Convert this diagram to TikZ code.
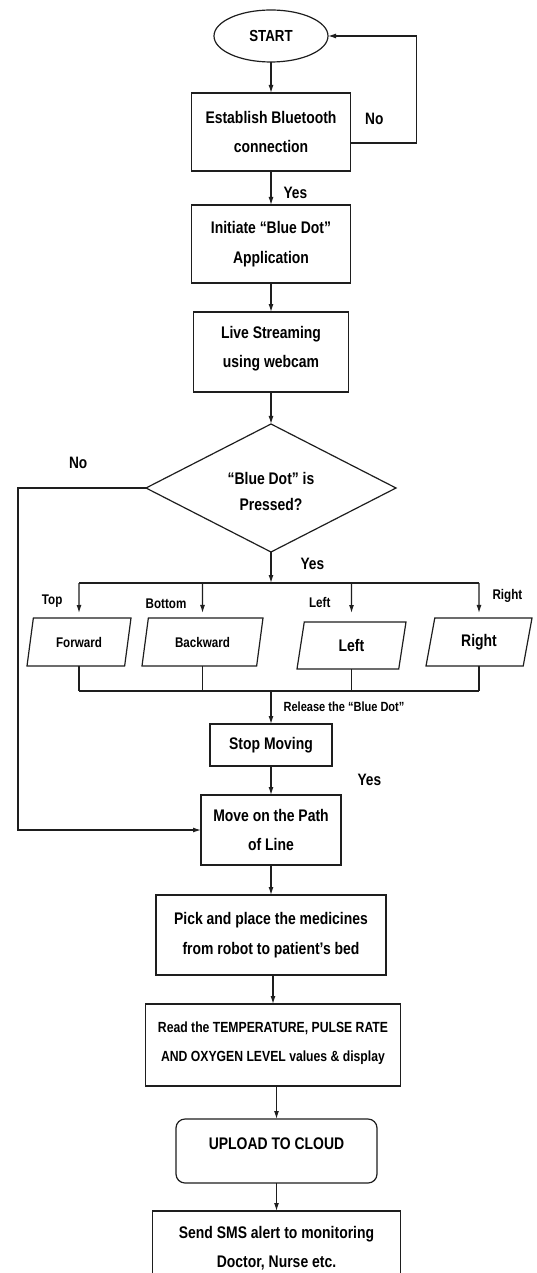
\documentclass[tikz,border=0pt]{standalone}
\usepackage{fontspec}
\setmainfont{Liberation Sans}[FakeStretch=0.83]
\usepackage{tikz}
\usetikzlibrary{shapes.geometric, arrows.meta, positioning, calc}
\definecolor{inkline}{RGB}{30, 30, 30}
\tikzset{
  font=\bfseries\fontsize{16.8}{29.5}\selectfont,
  baseblock/.style={
    rectangle, draw=inkline, line width=1.2pt, outer sep=0pt,
    align=flush center, inner sep=5pt
  },
  procblock/.style={baseblock},
  cloudblock/.style={baseblock, rounded corners=9pt},
  termblock/.style={
    ellipse, draw=inkline, line width=1.2pt, inner sep=0pt, outer sep=0pt,
    minimum width=114pt, minimum height=52pt,
    font=\bfseries\fontsize{16}{18}\selectfont
  },
  decisionblock/.style={
    diamond, draw=inkline, line width=1.2pt, aspect=1.95, outer sep=0pt,
    align=flush center, inner sep=3pt,
    font=\bfseries\fontsize{16.8}{26}\selectfont
  },
  ioblock/.style={
    trapezium, trapezium left angle=66, trapezium right angle=114,
    trapezium stretches body, draw=inkline, line width=1.2pt, outer sep=0pt,
    minimum height=48pt, inner sep=2pt
  },
  flowline/.style={
    draw=inkline, -{Latex[length=8pt, width=5pt]}, line width=1.2pt
  },
  plainline/.style={draw=inkline, line width=1.2pt},
  tag/.style={inner sep=0pt, font=\bfseries\fontsize{16.5}{18}\selectfont},
  smalltag/.style={inner sep=0pt, font=\bfseries\fontsize{14}{16}\selectfont}
}

\begin{document}
\begin{tikzpicture}[node distance=30pt and 25pt]

  \path[use as bounding box, fill=white] (0pt,0pt) rectangle (536pt,-1273pt);

  % Setup: connection and application
  \node[termblock] (start_node) at (271pt,-36pt) {START};
  \node[procblock, below=31pt of start_node, minimum width=159pt, minimum height=78pt, text width=148pt] (bt_box) {Establish Bluetooth\\connection};
  \node[procblock, below=34pt of bt_box, minimum width=159pt, minimum height=78pt, text width=148pt] (app_box) {Initiate “Blue Dot”\\Application};
  \node[procblock, below=29pt of app_box, minimum width=155pt, minimum height=80pt, text width=144pt, text depth=40pt] (stream_box) {Live Streaming\\using webcam};
  \node[decisionblock, below=32pt of stream_box, minimum width=250pt, minimum height=128pt, text width=110pt, text height=20pt] (press_dec) {“Blue Dot” is\\Pressed?};

  % Direction branches
  \coordinate (split) at ($(press_dec.south)+(0,-31pt)$);
  \node[ioblock, minimum width=104pt, font=\bfseries\fontsize{14}{16}\selectfont] (fwd_box) at ($(press_dec.south)+(-192pt,-90pt)$) {Forward};
  \node[ioblock, on grid, right=123.5pt of fwd_box, minimum width=121pt, font=\bfseries\fontsize{14}{16}\selectfont] (bwd_box) {Backward};
  \node[ioblock, on grid, right=149pt of bwd_box, yshift=-3.5pt, minimum width=109pt, minimum height=47pt] (left_box) {Left};
  \node[ioblock, on grid, right=127.5pt of left_box, yshift=3.5pt, minimum width=106pt] (right_box) {Right};
  \coordinate (merge) at ($(split)+(0,-108pt)$);

  % Motion and medicine delivery
  \node[procblock, below=33pt of merge, minimum width=122pt, minimum height=42pt] (stop_box) {Stop Moving};
  \node[procblock, below=29pt of stop_box, minimum width=140pt, minimum height=70pt, text width=129pt] (path_box) {Move on the Path\\of Line};
  \node[procblock, below=30pt of path_box, minimum width=230pt, minimum height=80pt, text width=219pt] (pick_box) {Pick and place the medicines\\from robot to patient’s bed};

  % Sensing, cloud and alert
  \node[procblock, below=29pt of pick_box, xshift=2pt, minimum width=255pt, minimum height=82pt, text width=240pt, text depth=36pt, font=\bfseries\fontsize{14.7}{29}\selectfont] (read_box) {Read the TEMPERATURE, PULSE RATE\\AND OXYGEN LEVEL values \& display};
  \node[cloudblock, below=33pt of read_box, xshift=3.5pt, minimum width=201pt, minimum height=64pt, text depth=15pt] (cloud_box) {UPLOAD TO CLOUD};
  \node[procblock, below=28pt of cloud_box, minimum width=248pt, minimum height=90pt, text width=237pt, text depth=48pt] (sms_box) {Send SMS alert to monitoring\\Doctor, Nurse etc.};

  % Flows
  \draw[flowline] (start_node) -- (bt_box);
  \draw[flowline] (bt_box) -- node[tag, pos=0.63, right=12pt] {Yes} (app_box);
  \draw[flowline] ([yshift=-11pt]bt_box.east) -- node[tag, pos=0.36, above=18pt] {No} ++(66pt,0) |- (start_node.east);
  \draw[flowline] (app_box) -- (stream_box);
  \draw[flowline] (stream_box) -- (press_dec);
  \draw[flowline] (press_dec) -- node[tag, pos=0.39, right=29pt] {Yes} (split);
  \draw[flowline] (press_dec.west) -- node[tag, pos=0.53, above=19pt] {No} ++(-128pt,0) |- (path_box.west);

  % Branch bus into the four directions
  \draw[plainline] (split -| fwd_box) -- (split -| right_box);
  \draw[flowline, shorten >=5pt] (split -| fwd_box) -- node[smalltag, pos=0.51, left=16pt] {Top} (fwd_box.north);
  \draw[flowline, shorten >=5pt] (split -| bwd_box) -- node[smalltag, pos=0.6, left=15.5pt] {Bottom} (bwd_box.north);
  \draw[flowline, shorten >=9pt] (split -| left_box) -- node[smalltag, pos=0.51, left=20.5pt] {Left} (left_box.north);
  \draw[flowline, shorten >=5pt] (split -| right_box) -- node[smalltag, pos=0.36, right=13pt] {Right} (right_box.north);

  % Merge bus after release
  \draw[plainline] (fwd_box.south) -- (fwd_box.south |- merge);
  \draw[plainline] (bwd_box.south) -- (bwd_box.south |- merge);
  \draw[plainline] (left_box.south) -- (left_box.south |- merge);
  \draw[plainline] (right_box.south) -- (right_box.south |- merge);
  \draw[plainline] (merge -| fwd_box) -- (merge -| right_box);
  \draw[flowline] (merge) -- node[smalltag, pos=0.47, right=12pt, font=\bfseries\fontsize{13.3}{15}\selectfont] {Release the “Blue Dot”} (stop_box);

  \draw[flowline] (stop_box) -- node[tag, pos=0.48, right=86pt] {Yes} (path_box);
  \draw[flowline] (path_box) -- (pick_box);
  \draw[flowline] (pick_box.south -| read_box) -- (read_box.north);
  \draw[flowline] (read_box.south -| cloud_box) -- (cloud_box.north);
  \draw[flowline] (cloud_box) -- (sms_box);

\end{tikzpicture}
\end{document}
